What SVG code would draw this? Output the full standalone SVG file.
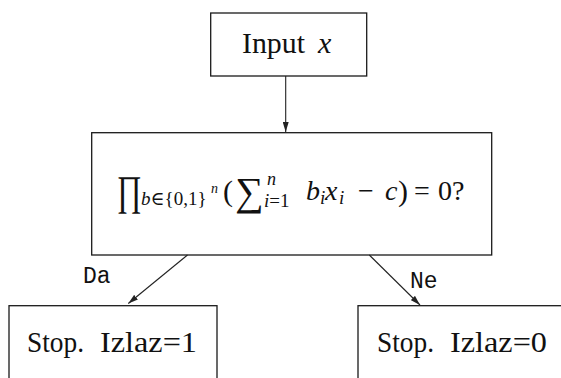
<svg xmlns="http://www.w3.org/2000/svg" width="561" height="378" viewBox="0 0 561 378">
<style>
.box{fill:none;stroke:#1a1a1a;stroke-width:1.3}
.t{font-family:"Liberation Serif","DejaVu Serif",serif;fill:#111}
.it{font-style:italic}
.tt{font-family:"Liberation Mono","DejaVu Sans Mono",monospace;fill:#111;font-size:23px}
.edge{stroke:#222;stroke-width:1.1;fill:none}
</style>
<defs>
<marker id="ah" viewBox="0 0 10 6" refX="10" refY="3" markerWidth="10" markerHeight="6" markerUnits="userSpaceOnUse" orient="auto">
<path d="M0,0 L10,3 L0,6 Z" fill="#222"/>
</marker>
</defs>
<rect width="561" height="378" fill="#fff"/>
<g id="input">
<rect class="box" x="210.7" y="13" width="156" height="63"/>
<text class="t" font-size="30" x="242" y="53" textLength="63" lengthAdjust="spacingAndGlyphs">Input</text>
<text class="t it" font-size="30" x="318" y="53">x</text>
</g>
<g id="decision">
<rect class="box" x="91.7" y="132.7" width="400" height="122.3"/>
<text class="t" font-size="42" transform="translate(117,205) scale(0.72,1)">∏</text>
<text class="t" font-size="19" y="205"><tspan x="141" class="it">b</tspan><tspan>∈{0,1}</tspan></text>
<text class="t it" font-size="14" x="211" y="193">n</text>
<text class="t" font-size="30" x="223" y="201">(</text>
<text class="t" font-size="40" x="235" y="205">∑</text>
<text class="t it" font-size="18" x="267" y="185">n</text>
<text class="t" font-size="19" y="207"><tspan x="264" class="it">i</tspan><tspan>=1</tspan></text>
<text class="t it" font-size="28" x="306" y="200">b</text>
<text class="t it" font-size="19" x="320" y="204">i</text>
<text class="t it" font-size="28" x="325" y="200">x</text>
<text class="t it" font-size="19" x="339" y="204">i</text>
<text class="t" font-size="28" x="358" y="200">−</text>
<text class="t it" font-size="28" x="385" y="200">c</text>
<text class="t" font-size="30" x="398" y="201">)</text>
<text class="t" font-size="28" x="414" y="200">=</text>
<text class="t" font-size="28" x="438" y="200">0?</text>
</g>
<g id="stop1">
<rect class="box" x="9" y="305.7" width="208" height="90"/>
<text class="t" font-size="30" x="27" y="352" textLength="57" lengthAdjust="spacingAndGlyphs">Stop.</text>
<text class="t" font-size="30" x="100" y="352" textLength="97" lengthAdjust="spacingAndGlyphs">Izlaz=1</text>
</g>
<g id="stop0">
<rect class="box" x="358" y="305.7" width="220" height="90"/>
<text class="t" font-size="30" x="377" y="352" textLength="57" lengthAdjust="spacingAndGlyphs">Stop.</text>
<text class="t" font-size="30" x="450" y="352" textLength="97" lengthAdjust="spacingAndGlyphs">Izlaz=0</text>
</g>
<g id="connectors">
<line class="edge" x1="285.7" y1="76" x2="285.7" y2="132" marker-end="url(#ah)"/>
<line class="edge" x1="187.5" y1="255" x2="128.3" y2="303.5" marker-end="url(#ah)"/>
<line class="edge" x1="369.3" y1="255" x2="420" y2="305" marker-end="url(#ah)"/>
<text class="tt" x="83" y="283">Da</text>
<text class="tt" x="410" y="288">Ne</text>
</g>
</svg>
